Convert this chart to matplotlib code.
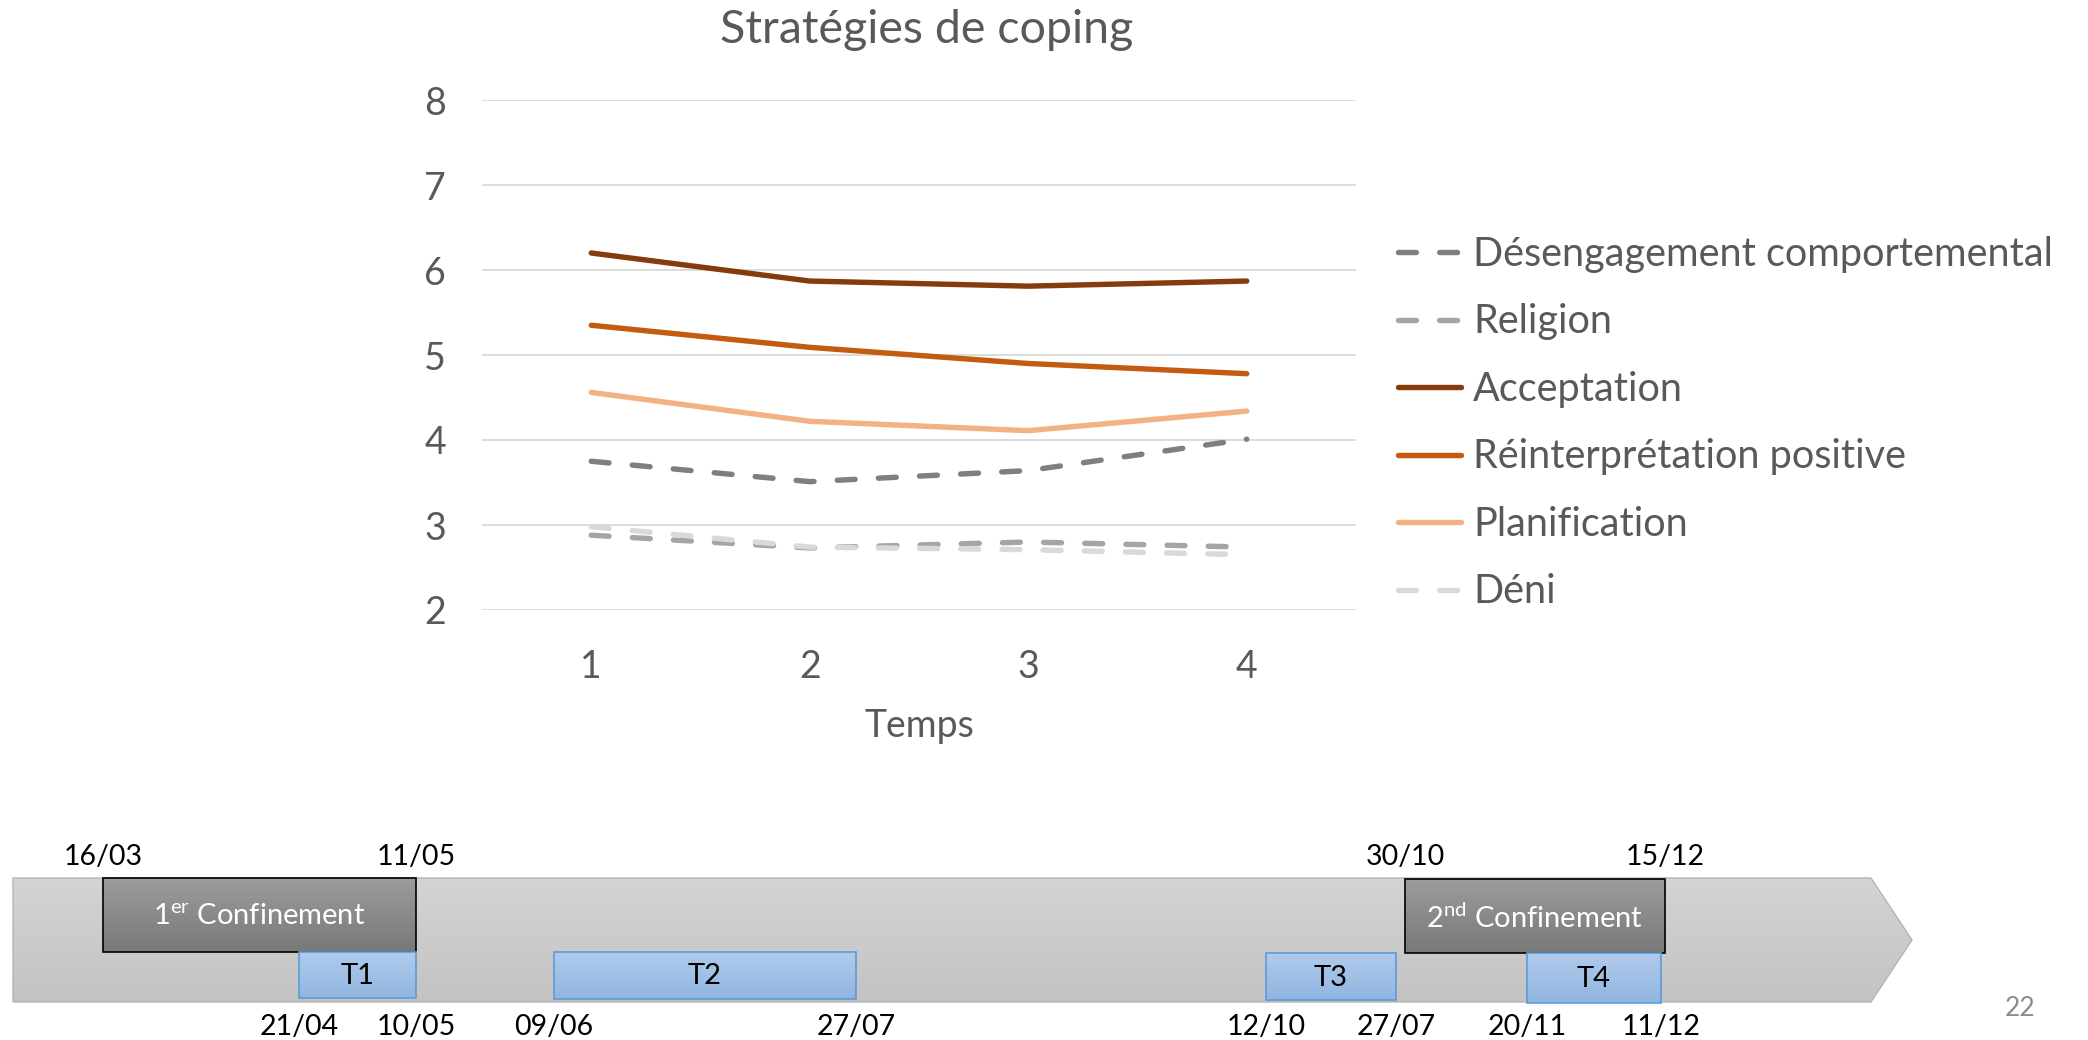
"""
Stratégies de coping (4 temps de mesure) + frise chronologique des confinements.
"""
import numpy as np
import matplotlib
matplotlib.use('Agg')
import matplotlib.pyplot as plt
from matplotlib.patches import Polygon, Rectangle
from matplotlib.colors import LinearSegmentedColormap

plt.rcParams['font.family'] = ['Lato', 'DejaVu Sans']
plt.rcParams['mathtext.fontset'] = 'custom'
plt.rcParams['mathtext.rm'] = 'Lato'

# ---- données ----
temps = [1, 2, 3, 4]
desengagement = [3.75, 3.51, 3.64, 4.01]
religion = [2.88, 2.73, 2.80, 2.74]
acceptation = [6.20, 5.87, 5.81, 5.87]
reinterpretation = [5.35, 5.09, 4.90, 4.78]
planification = [4.56, 4.22, 4.11, 4.34]
deni = [2.98, 2.74, 2.71, 2.65]

series = [
    ('Désengagement comportemental', desengagement, '#7F7F7F', True),
    ('Religion', religion, '#A5A5A5', True),
    ('Acceptation', acceptation, '#843C0C', False),
    ('Réinterprétation positive', reinterpretation, '#C55A11', False),
    ('Planification', planification, '#F4B183', False),
    ('Déni', deni, '#D9D9D9', True),
]

# ---- frise ----
confinements = ['1$^{\\rm er}$ Confinement', '2$^{\\rm nd}$ Confinement']
conf_debut = ['16/03', '30/10']
conf_fin = ['11/05', '15/12']
mesures = ['T1', 'T2', 'T3', 'T4']
mes_debut = ['21/04', '09/06', '12/10', '20/11']
mes_fin = ['10/05', '27/07', '27/07', '11/12']

# positions de la frise (pixels, dessin fait à la main)
conf_box = [(103, 878, 416, 952), (1405, 879, 1665, 953)]
mes_box = [(299, 952, 416, 998), (554, 952, 856, 999),
           (1266, 953, 1396, 1000), (1527, 953, 1661, 1003)]

W, H = 2088, 1040
TXT = '#595959'
LW = 3.9

fig = plt.figure(figsize=(W / 100, H / 100), dpi=100)


def gradient(ax, box, c_top, c_bot, z):
    x0, y0, x1, y1 = box
    cmap = LinearSegmentedColormap.from_list('g', [c_top, c_bot])
    grad = np.linspace(0, 1, 128).reshape(-1, 1)
    return ax.imshow(grad, cmap=cmap, extent=(x0, x1, y1, y0), origin='upper',
                     aspect='auto', zorder=z, interpolation='bilinear')


# frise en coordonnées pixel
tl = fig.add_axes([0, 0, 1, 1])
tl.axis('off')

arrow = Polygon([(13, 878), (1871, 878), (1912, 940), (1871, 1002), (13, 1002)],
                closed=True, facecolor='none', edgecolor='#B5B5B5', lw=1.0, zorder=2)
tl.add_patch(arrow)
im = gradient(tl, (13, 878, 1912, 1002), '#D4D4D4', '#C3C3C3', 1)
im.set_clip_path(arrow)

for lab, (x0, y0, x1, y1), d0, d1 in zip(confinements, conf_box, conf_debut, conf_fin):
    gradient(tl, (x0, y0, x1, y1), '#9C9C9C', '#797979', 3)
    tl.add_patch(Rectangle((x0, y0), x1 - x0, y1 - y0, facecolor='none',
                           edgecolor='black', lw=1.2, zorder=4))
    tl.text((x0 + x1) / 2, (y0 + y1) / 2 + 2, lab, color='white', fontsize=21,
            ha='center', va='center', zorder=5)
    tl.text(x0, 857, d0, fontsize=20.5, ha='center', va='center')
    tl.text(x1, 857, d1, fontsize=20.5, ha='center', va='center')

for lab, (x0, y0, x1, y1), d0, d1 in zip(mesures, mes_box, mes_debut, mes_fin):
    gradient(tl, (x0, y0, x1, y1), '#B0CBEB', '#91B5E0', 5)
    tl.add_patch(Rectangle((x0, y0), x1 - x0, y1 - y0, facecolor='none',
                           edgecolor='#5B9BD5', lw=1.2, zorder=6))
    tl.text((x0 + x1) / 2, (y0 + y1) / 2 + 1, lab, color='black', fontsize=21,
            ha='center', va='center', zorder=7)
    tl.text(x0, 1027, d0, fontsize=20.5, ha='center', va='center')
    tl.text(x1, 1027, d1, fontsize=20.5, ha='center', va='center')

tl.text(2020, 1008, '22', color='#8C8C8C', fontsize=19, ha='center', va='center')
tl.set_xlim(0, W)
tl.set_ylim(H, 0)

# graphique principal
ax = fig.add_axes([482 / W, 1 - 610 / H, 874 / W, 510 / H])
for name, vals, col, dashed in series:
    if dashed:
        ax.plot(temps, vals, color=col, lw=LW, dashes=(3.3, 4.3),
                dash_capstyle='round', label=name, zorder=3)
    else:
        ax.plot(temps, vals, color=col, lw=LW, solid_capstyle='round',
                solid_joinstyle='round', label=name, zorder=3)

ax.set_xlim(0.5, 4.5)
ax.set_ylim(2, 8)
ax.set_xticks(temps)
ax.set_yticks(range(2, 9))
ax.grid(axis='y', color='#D9D9D9', lw=1.3)
ax.set_axisbelow(True)
for s in ax.spines.values():
    s.set_visible(False)
ax.tick_params(length=0, labelsize=27, colors=TXT)
ax.tick_params(axis='y', pad=26)
ax.tick_params(axis='x', pad=28)
ax.set_xlabel('Temps', fontsize=27, color=TXT, labelpad=17)
fig.text(927 / W, 1 - 30 / H, 'Stratégies de coping', fontsize=33.5, color=TXT,
         ha='center', va='center')

leg = fig.legend(loc='upper left', bbox_to_anchor=(1398 / W, 1 - 236 / H),
                 frameon=False, fontsize=28.5, handlelength=1.6, handletextpad=0.3,
                 labelspacing=0.77, borderpad=0, borderaxespad=0)
for t in leg.get_texts():
    t.set_color(TXT)

fig.savefig('out.png', dpi=100)
